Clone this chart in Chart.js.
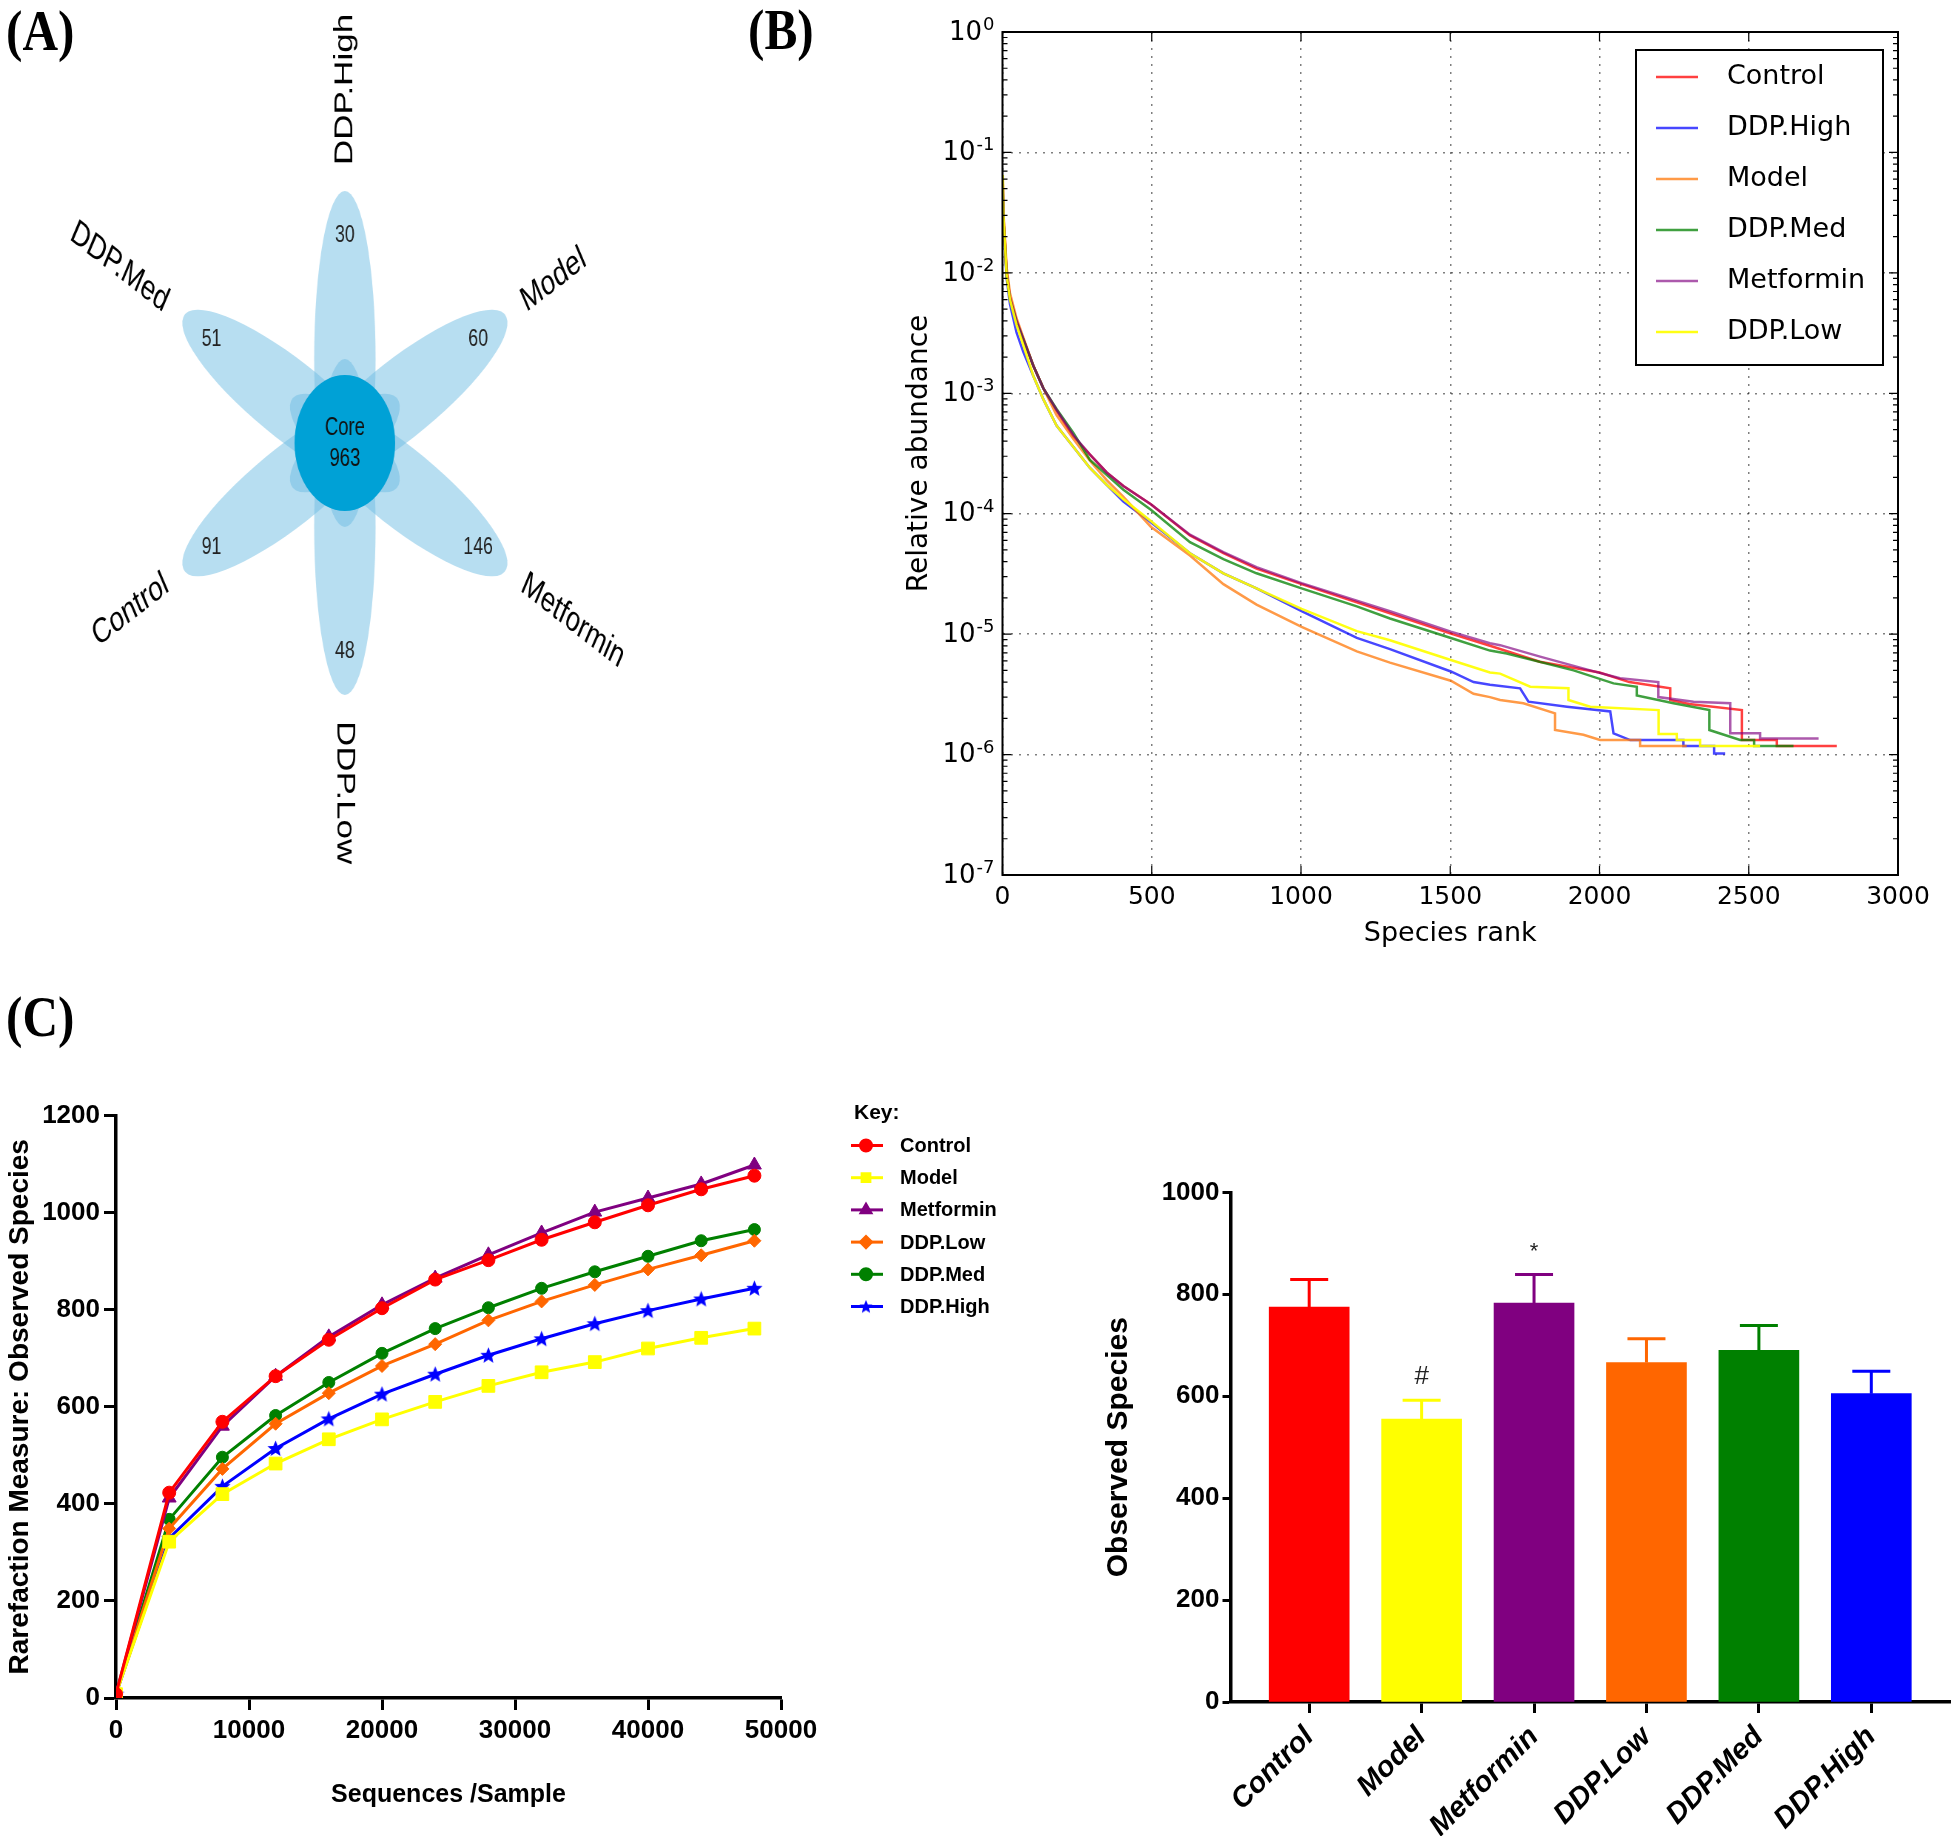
<!DOCTYPE html>
<html>
<head>
<meta charset="utf-8">
<title>Gut microbiota diversity</title>
<script src="https://cdn.jsdelivr.net/npm/chart.js@4.4.1/dist/chart.umd.min.js"></script>
<style>
  html, body { margin: 0; padding: 0; background: #fff; }
  body { position: relative; width: 1954px; height: 1836px; overflow: hidden; }
  canvas { position: absolute; }
  .tag { position: absolute; font: bold 58px "Liberation Serif", "Times New Roman", serif; line-height: 1; color: #000;
         transform: scaleX(0.85); transform-origin: 0 0; }
</style>
</head>
<body>
<div class="tag" style="left:6px; top:2px">(A)</div>
<div class="tag" style="left:748px; top:1px">(B)</div>
<div class="tag" style="left:6px; top:988px">(C)</div>
<canvas id="venn" width="946" height="880" style="left:0; top:0; transform:scaleX(0.74); transform-origin:0 0"></canvas>
<canvas id="rank" width="1074" height="960" style="left:880px; top:0"></canvas>
<canvas id="rare" width="1060" height="776" style="left:0; top:1060px"></canvas>
<canvas id="bars" width="874" height="686" style="left:1080px; top:1150px"></canvas>
<script>
// ---------- (A) flower diagram ----------
const flowerSets = ['DDP.High', 'Model', 'Metformin', 'DDP.Low', 'Control', 'DDP.Med'];
const flowerUnique = [30, 60, 146, 48, 91, 51];
const flowerCore = 963;

// ---------- (B) rank abundance: [species rank, relative abundance] ----------
const rankNames = ['Control', 'DDP.High', 'Model', 'DDP.Med', 'Metformin', 'DDP.Low'];
const rankControl = [[1,0.055],[3,0.03],[14,0.01],[25,0.0063],[47,0.004],[70,0.0028],[103,0.0017],[137,0.0011],
  [181,7.2e-4],[237,4.4e-4],[293,3.1e-4],[349,2.2e-4],[405,1.7e-4],[497,1.2e-4],[628,6.6e-5],[740,4.7e-5],
  [851,3.5e-5],[1002,2.6e-5],[1187,1.84e-5],[1298,1.49e-5],[1502,1.01e-5],[1633,8.0e-6],[1800,5.9e-6],
  [2000,4.8e-6],[2100,4.0e-6],[2237,3.55e-6],[2237,2.84e-6],[2300,2.63e-6],[2477,2.34e-6],[2477,1.32e-6],
  [2594,1.32e-6],[2594,1.18e-6],[2795,1.18e-6]];
const rankHigh = [[1,0.05],[3,0.028],[14,0.009],[25,0.0055],[47,0.0032],[70,0.0022],[103,0.0014],[137,8.9e-4],
  [181,5.4e-4],[237,3.6e-4],[293,2.4e-4],[349,1.74e-4],[405,1.26e-4],[497,8.5e-5],[628,4.7e-5],[740,3.2e-5],
  [851,2.4e-5],[1002,1.55e-5],[1187,9.3e-6],[1298,7.5e-6],[1502,4.9e-6],[1578,4.0e-6],[1633,3.8e-6],
  [1734,3.55e-6],[1762,2.75e-6],[1891,2.5e-6],[2036,2.28e-6],[2047,1.5e-6],[2103,1.32e-6],[2281,1.32e-6],
  [2281,1.18e-6],[2384,1.18e-6],[2384,1.02e-6],[2421,1.02e-6]];
const rankModel = [[1,0.06],[3,0.032],[14,0.011],[25,0.0068],[47,0.0042],[70,0.0029],[103,0.0017],[137,0.0011],
  [181,6.6e-4],[237,4.2e-4],[293,2.75e-4],[349,1.9e-4],[405,1.38e-4],[497,7.8e-5],[628,4.5e-5],[740,2.6e-5],
  [851,1.76e-5],[1002,1.15e-5],[1187,7.2e-6],[1298,5.8e-6],[1502,4.1e-6],[1578,3.2e-6],[1633,3.0e-6],
  [1667,2.84e-6],[1745,2.67e-6],[1851,2.2e-6],[1851,1.6e-6],[1946,1.46e-6],[2002,1.32e-6],[2136,1.32e-6],
  [2136,1.18e-6],[2292,1.18e-6]];
const rankMed = [[1,0.045],[3,0.028],[14,0.0095],[25,0.006],[47,0.0039],[70,0.0028],[103,0.0017],[137,0.0011],
  [181,7.4e-4],[237,4.7e-4],[293,2.8e-4],[349,2.1e-4],[405,1.58e-4],[497,1.08e-4],[628,5.8e-5],[740,4.2e-5],
  [851,3.2e-5],[1002,2.4e-5],[1187,1.7e-5],[1298,1.35e-5],[1502,9.3e-6],[1633,7.3e-6],[1689,6.9e-6],
  [1913,5.0e-6],[2047,3.9e-6],[2125,3.66e-6],[2125,3.1e-6],[2248,2.67e-6],[2368,2.34e-6],[2368,1.6e-6],
  [2471,1.32e-6],[2518,1.32e-6],[2518,1.18e-6],[2650,1.18e-6]];
const rankMetformin = [[1,0.05],[3,0.028],[14,0.0098],[25,0.0062],[47,0.004],[70,0.0028],[103,0.0017],[137,0.0011],
  [181,7.3e-4],[237,4.5e-4],[293,3.1e-4],[349,2.2e-4],[405,1.7e-4],[497,1.2e-4],[628,6.7e-5],[740,4.8e-5],
  [851,3.6e-5],[1002,2.65e-5],[1187,1.9e-5],[1298,1.55e-5],[1502,1.05e-5],[1633,8.4e-6],[1667,8.1e-6],
  [1801,6.5e-6],[1969,5.0e-6],[2069,4.3e-6],[2197,4.0e-6],[2197,3.0e-6],[2315,2.75e-6],[2438,2.67e-6],
  [2438,1.5e-6],[2538,1.5e-6],[2538,1.36e-6],[2734,1.36e-6]];
const rankLow = [[1,0.065],[3,0.03],[14,0.0095],[25,0.006],[47,0.0037],[70,0.0025],[103,0.0014],[137,8.9e-4],
  [181,5.4e-4],[237,3.6e-4],[293,2.4e-4],[349,1.74e-4],[405,1.32e-4],[497,8.7e-5],[628,4.7e-5],[740,3.2e-5],
  [851,2.4e-5],[1002,1.62e-5],[1187,1.06e-5],[1298,8.9e-6],[1502,6.1e-6],[1633,4.8e-6],[1667,4.7e-6],
  [1768,3.66e-6],[1896,3.55e-6],[1896,2.84e-6],[1969,2.5e-6],[2198,2.34e-6],[2198,1.48e-6],[2259,1.48e-6],
  [2259,1.32e-6],[2337,1.32e-6],[2337,1.18e-6],[2538,1.18e-6]];
const abundTicks = [1, 1e-1, 1e-2, 1e-3, 1e-4, 1e-5, 1e-6, 1e-7];

// ---------- (C) rarefaction curves ----------
const rareNames = ['Control', 'Model', 'Metformin', 'DDP.Low', 'DDP.Med', 'DDP.High'];
const seqDepth = [0, 4000, 8000, 12000, 16000, 20000, 24000, 28000, 32000, 36000, 40000, 44000, 48000];
const rareControl = [8, 423, 569, 663, 738, 803, 862, 902, 944, 980, 1015, 1048, 1076];
const rareModel = [8, 322, 420, 483, 533, 574, 610, 643, 671, 692, 720, 742, 761];
const rareMetformin = [8, 412, 560, 663, 744, 810, 865, 913, 958, 1001, 1030, 1059, 1098];
const rareLow = [8, 349, 472, 565, 628, 684, 729, 778, 817, 851, 883, 912, 942];
const rareMed = [8, 368, 496, 582, 650, 710, 761, 804, 844, 878, 910, 942, 965];
const rareHigh = [8, 329, 436, 514, 575, 626, 667, 706, 740, 771, 798, 822, 844];

// ---------- (D) observed species ----------
const groupNames = ['Control', 'Model', 'Metformin', 'DDP.Low', 'DDP.Med', 'DDP.High'];
const obsMean = [775, 555, 783, 666, 690, 605];
const obsSem = [54, 37, 56, 47, 49, 44];
const obsMarks = ['', '#', '*', '', '', ''];

// ---------- styles ----------
const SANS = '"Liberation Sans", Arial, sans-serif';
const DEJA = '"DejaVu Sans", sans-serif';
Chart.defaults.font.family = SANS;
Chart.defaults.color = '#000';
Chart.defaults.animation = false;

const rankColors = ['rgba(255,0,0,0.75)', 'rgba(0,0,255,0.72)', 'rgba(255,120,10,0.75)',
  'rgba(0,128,0,0.75)', 'rgba(128,0,128,0.65)', 'rgba(255,255,0,0.92)'];
const rareColors = ['#ff0000', '#ffff00', '#800080', '#ff6600', '#008000', '#0000ff'];
const rareRadius = [6.5, 9, 8, 6.5, 6, 7];
const barColors = ['#ff0000', '#ffff00', '#800080', '#ff6600', '#008000', '#0000ff'];

// filled five point star marker (Prism style)
function starMarker(color, size) {
    const c = document.createElement('canvas');
    c.width = size; c.height = size;
    const g = c.getContext('2d');
    const r = size / 2, ri = r * 0.45;
    g.fillStyle = color;
    g.beginPath();
    for (let k = 0; k < 10; k++) {
        const rr = k % 2 ? ri : r;
        const t = -Math.PI / 2 + k * Math.PI / 5;
        g.lineTo(r + rr * Math.cos(t), r + 0.5 + rr * Math.sin(t));
    }
    g.closePath();
    g.fill();
    return c;
}
const rareShapes = ['circle', 'rect', 'triangle', 'rectRot', 'circle', starMarker('#0000ff', 17)];
const keyStar = starMarker('#0000ff', 14);

// ================= (A) =================
const flowerPlugin = {
    id: 'flower',
    afterDraw(chart) {
        const { ctx, scales: { x, y } } = chart;
        const px = (u, v) => [x.getPixelForValue(u), y.getPixelForValue(v)];
        const unit = x.getPixelForValue(1) - x.getPixelForValue(0);
        const petalA = 168, petalB = 41.5, petalShift = 84, coreR = 68;
        ctx.save();
        // petals
        flowerSets.forEach((name, i) => {
            const ang = (90 - 60 * i) * Math.PI / 180;
            const [cx, cy] = px(petalShift * Math.cos(ang), petalShift * Math.sin(ang));
            ctx.fillStyle = 'rgba(112, 190, 228, 0.5)';
            ctx.beginPath();
            ctx.ellipse(cx, cy, petalA * unit, petalB * unit, -ang, 0, Math.PI * 2);
            ctx.fill();
        });
        // core
        const [ox, oy] = px(0, 0);
        ctx.fillStyle = '#00a1d6';
        ctx.beginPath();
        ctx.arc(ox, oy, coreR * unit, 0, Math.PI * 2);
        ctx.fill();

        ctx.textAlign = 'center';
        ctx.textBaseline = 'middle';
        ctx.fillStyle = '#111';
        ctx.font = '25px ' + SANS;
        ctx.fillText('Core', ...px(0, 15));
        ctx.fillText(String(flowerCore), ...px(0, -16));

        flowerSets.forEach((name, i) => {
            const deg = 90 - 60 * i;
            const ang = deg * Math.PI / 180;
            ctx.fillStyle = '#222';
            ctx.font = '24px ' + SANS;
            ctx.fillText(String(flowerUnique[i]), ...px(208 * Math.cos(ang), 208 * Math.sin(ang)));

            ctx.fillStyle = '#000';
            ctx.font = '35px ' + SANS;
            const r = 278 + ctx.measureText(name).width / 2;
            const [tx, ty] = px(r * Math.cos(ang), r * Math.sin(ang));
            let rot = -ang;
            if (Math.abs(deg) > 90) rot = -(ang - Math.sign(deg) * Math.PI);
            ctx.save();
            ctx.translate(tx, ty);
            ctx.rotate(rot);
            ctx.fillText(name, 0, 0);
            ctx.restore();
        });
        ctx.restore();
    }
};

new Chart(document.getElementById('venn'), {
    type: 'scatter',
    data: { datasets: [{ data: [], pointRadius: 0 }] },
    options: {
        responsive: false,
        animation: false,
        layout: { padding: 0 },
        plugins: { legend: { display: false }, tooltip: { enabled: false } },
        scales: {
            x: { display: false, min: -466, max: 480 },
            y: { display: false, min: -437, max: 443 }
        }
    },
    plugins: [flowerPlugin]
});

// ================= (B) =================
const rankFrame = {
    id: 'rankFrame',
    afterDraw(chart) {
        const { ctx, chartArea: a, scales: { x, y } } = chart;
        ctx.save();
        ctx.strokeStyle = '#000';
        ctx.lineWidth = 1.2;
        ctx.beginPath();
        x.ticks.forEach(t => {
            const p = x.getPixelForValue(t.value);
            ctx.moveTo(p, a.bottom); ctx.lineTo(p, a.bottom - 9);
            ctx.moveTo(p, a.top); ctx.lineTo(p, a.top + 9);
        });
        y.ticks.forEach(t => {
            const p = y.getPixelForValue(t.value);
            ctx.moveTo(a.left, p); ctx.lineTo(a.left + 9, p);
            ctx.moveTo(a.right, p); ctx.lineTo(a.right - 9, p);
            if (t.value < 1) {
                for (let k = 2; k <= 9; k++) {
                    const q = y.getPixelForValue(t.value * k);
                    ctx.moveTo(a.left, q); ctx.lineTo(a.left + 5, q);
                    ctx.moveTo(a.right, q); ctx.lineTo(a.right - 5, q);
                }
            }
        });
        ctx.stroke();
        ctx.lineWidth = 2;
        ctx.strokeRect(a.left, a.top, a.right - a.left, a.bottom - a.top);

        // y tick labels: 10 with a raised exponent
        ctx.fillStyle = '#000';
        ctx.textAlign = 'right';
        y.ticks.forEach(t => {
            const p = y.getPixelForValue(t.value);
            const exp = String(Math.round(Math.log10(t.value)));
            ctx.font = '18px ' + DEJA;
            ctx.textBaseline = 'alphabetic';
            const ew = ctx.measureText(exp).width;
            ctx.fillText(exp, a.left - 8, p - 2);
            ctx.font = '26px ' + DEJA;
            ctx.textBaseline = 'middle';
            ctx.fillText('10', a.left - 9 - ew, p + 1);
        });

        // legend box
        const lx = a.right - 262, ly = a.top + 18, lw = 247, lh = 315;
        ctx.fillStyle = '#fff';
        ctx.fillRect(lx, ly, lw, lh);
        ctx.strokeRect(lx, ly, lw, lh);
        ctx.font = '27px ' + DEJA;
        ctx.textAlign = 'left';
        ctx.textBaseline = 'middle';
        chart.data.datasets.forEach((ds, i) => {
            const yy = ly + 27 + i * 51;
            ctx.strokeStyle = ds.borderColor;
            ctx.lineWidth = 2.5;
            ctx.beginPath();
            ctx.moveTo(lx + 20, yy); ctx.lineTo(lx + 62, yy);
            ctx.stroke();
            ctx.fillStyle = '#000';
            ctx.fillText(ds.label, lx + 91, yy);
        });
        ctx.restore();
    }
};

const rankSeries = [rankControl, rankHigh, rankModel, rankMed, rankMetformin, rankLow];
new Chart(document.getElementById('rank'), {
    type: 'scatter',
    data: {
        datasets: rankNames.map((name, i) => ({
            label: name,
            data: rankSeries[i].map(p => ({ x: p[0], y: p[1] })),
            showLine: true,
            borderColor: rankColors[i],
            backgroundColor: rankColors[i],
            borderWidth: 2.5,
            pointRadius: 0,
            fill: false,
            order: -i
        }))
    },
    options: {
        responsive: false,
        animation: false,
        layout: { padding: { top: 32, right: 56, left: 0, bottom: 0 } },
        plugins: { legend: { display: false }, tooltip: { enabled: false } },
        scales: {
            x: {
                type: 'linear', min: 0, max: 3000,
                ticks: { stepSize: 500, callback: v => String(v), font: { family: DEJA, size: 25 }, padding: 7, maxRotation: 0 },
                grid: { color: 'rgba(0,0,0,0.5)', lineWidth: 1.5, drawTicks: false },
                border: { display: false, dash: [2, 6] },
                afterFit: s => { s.height = 85; },
                title: { display: true, text: 'Species rank', font: { family: DEJA, size: 27 }, padding: { top: 0, bottom: 10 } }
            },
            y: {
                type: 'logarithmic', min: 1e-7, max: 1,
                afterBuildTicks: s => { s.ticks = abundTicks.map(v => ({ value: v })); },
                ticks: { display: false },
                grid: { color: 'rgba(0,0,0,0.5)', lineWidth: 1.5, drawTicks: false },
                border: { display: false, dash: [2, 6] },
                afterFit: s => { s.width = 122.5; },
                title: { display: true, text: 'Relative abundance', font: { family: DEJA, size: 28 }, padding: { top: 23, bottom: 0 } }
            }
        }
    },
    plugins: [rankFrame]
});

// ================= (C) =================
const rareKey = {
    id: 'rareKey',
    afterDraw(chart) {
        const { ctx, chartArea: a } = chart;
        const kx = a.right + 70;
        ctx.save();
        ctx.fillStyle = '#000';
        ctx.textAlign = 'left';
        ctx.textBaseline = 'middle';
        ctx.font = 'bold 21px ' + SANS;
        ctx.fillText('Key:', kx + 3, a.top - 2);
        ctx.font = 'bold 20px ' + SANS;
        chart.data.datasets.forEach((ds, i) => {
            const yy = a.top + 30 + i * 32.2;
            ctx.strokeStyle = ds.borderColor;
            ctx.fillStyle = ds.borderColor;
            ctx.lineWidth = 3;
            ctx.beginPath();
            ctx.moveTo(kx, yy); ctx.lineTo(kx + 32, yy);
            ctx.stroke();
            const style = typeof ds.pointStyle === 'string' ? ds.pointStyle : keyStar;
            Chart.helpers.drawPoint(ctx, { pointStyle: style, radius: 5.5, rotation: 0, borderWidth: 1 }, kx + 15, yy);
            ctx.fillStyle = '#000';
            ctx.fillText(ds.label, kx + 49, yy + 1);
        });
        ctx.restore();
    }
};

const rareSeries = [rareControl, rareModel, rareMetformin, rareLow, rareMed, rareHigh];
new Chart(document.getElementById('rare'), {
    type: 'scatter',
    data: {
        datasets: rareNames.map((name, i) => ({
            label: name,
            data: seqDepth.map((d, j) => ({ x: d, y: rareSeries[i][j] })),
            showLine: true,
            borderColor: rareColors[i],
            backgroundColor: rareColors[i],
            borderWidth: 3,
            pointStyle: rareShapes[i],
            pointRadius: rareRadius[i],
            pointBorderColor: rareColors[i],
            pointBackgroundColor: rareColors[i],
            pointBorderWidth: 1,
            fill: false
        }))
    },
    options: {
        responsive: false,
        animation: false,
        layout: { padding: { top: 55.5, right: 279, left: 0, bottom: 0 } },
        plugins: { legend: { display: false }, tooltip: { enabled: false } },
        scales: {
            x: {
                type: 'linear', min: 0, max: 50000,
                ticks: { stepSize: 10000, callback: v => String(v), font: { size: 26, weight: 'bold' }, padding: 5, maxRotation: 0 },
                grid: { drawOnChartArea: false, tickLength: 12, tickWidth: 3, tickColor: '#000' },
                border: { color: '#000', width: 3.5 },
                afterFit: s => { s.height = 138; },
                title: { display: true, text: 'Sequences /Sample', font: { size: 25, weight: 'bold' }, padding: { top: 0, bottom: 26 } }
            },
            y: {
                min: 0, max: 1200,
                ticks: { stepSize: 200, callback: v => String(v), font: { size: 26, weight: 'bold' }, padding: 4 },
                grid: { drawOnChartArea: false, tickLength: 12, tickWidth: 3, tickColor: '#000' },
                border: { color: '#000', width: 3.5 },
                afterFit: s => { s.width = 116; },
                title: { display: true, text: 'Rarefaction Measure: Observed Species', font: { size: 28, weight: 'bold' }, padding: { top: 3, bottom: 0 } }
            }
        }
    },
    plugins: [rareKey]
});

// ================= (D) =================
const errorBars = {
    id: 'errorBars',
    afterDatasetsDraw(chart) {
        const { ctx, scales: { y } } = chart;
        const meta = chart.getDatasetMeta(0);
        ctx.save();
        meta.data.forEach((bar, i) => {
            const top = y.getPixelForValue(obsMean[i] + obsSem[i]);
            ctx.strokeStyle = barColors[i];
            ctx.lineWidth = 3;
            ctx.beginPath();
            ctx.moveTo(bar.x, bar.y);
            ctx.lineTo(bar.x, top);
            ctx.moveTo(bar.x - 19, top);
            ctx.lineTo(bar.x + 19, top);
            ctx.stroke();
            if (obsMarks[i]) {
                ctx.fillStyle = '#222';
                ctx.font = (obsMarks[i] === '*' ? '22px ' : '26px ') + SANS;
                ctx.textAlign = 'center';
                ctx.textBaseline = 'middle';
                ctx.fillText(obsMarks[i], bar.x, top - 23);
            }
        });
        ctx.restore();
    }
};

new Chart(document.getElementById('bars'), {
    type: 'bar',
    data: {
        datasets: [{
            data: groupNames.map((g, i) => ({ x: i, y: obsMean[i] })),
            backgroundColor: barColors,
            barThickness: 80
        }]
    },
    options: {
        responsive: false,
        animation: false,
        layout: { padding: { top: 42.4, right: 4, left: 0, bottom: 0 } },
        plugins: { legend: { display: false }, tooltip: { enabled: false } },
        scales: {
            x: {
                type: 'linear', min: -0.7, max: 5.7, offset: false,
                afterBuildTicks: s => { s.ticks = groupNames.map((g, i) => ({ value: i })); },
                ticks: { callback: v => groupNames[v], autoSkip: false, minRotation: 45, maxRotation: 45,
                         font: { size: 29, weight: 'bold', style: 'italic' }, padding: 7 },
                grid: { drawOnChartArea: false, offset: false, tickLength: 11, tickWidth: 3, tickColor: '#000' },
                border: { color: '#000', width: 3.5 },
                afterFit: s => { s.height = 134; }
            },
            y: {
                min: 0, max: 1000,
                ticks: { stepSize: 200, callback: v => String(v), font: { size: 26, weight: 'bold' }, padding: 3 },
                grid: { drawOnChartArea: false, tickLength: 8, tickWidth: 3, tickColor: '#000' },
                border: { color: '#000', width: 3.5 },
                afterFit: s => { s.width = 150.5; },
                title: { display: true, text: 'Observed Species', font: { size: 30, weight: 'bold' }, padding: { top: 21, bottom: 0 } }
            }
        }
    },
    plugins: [errorBars]
});
</script>
</body>
</html>
